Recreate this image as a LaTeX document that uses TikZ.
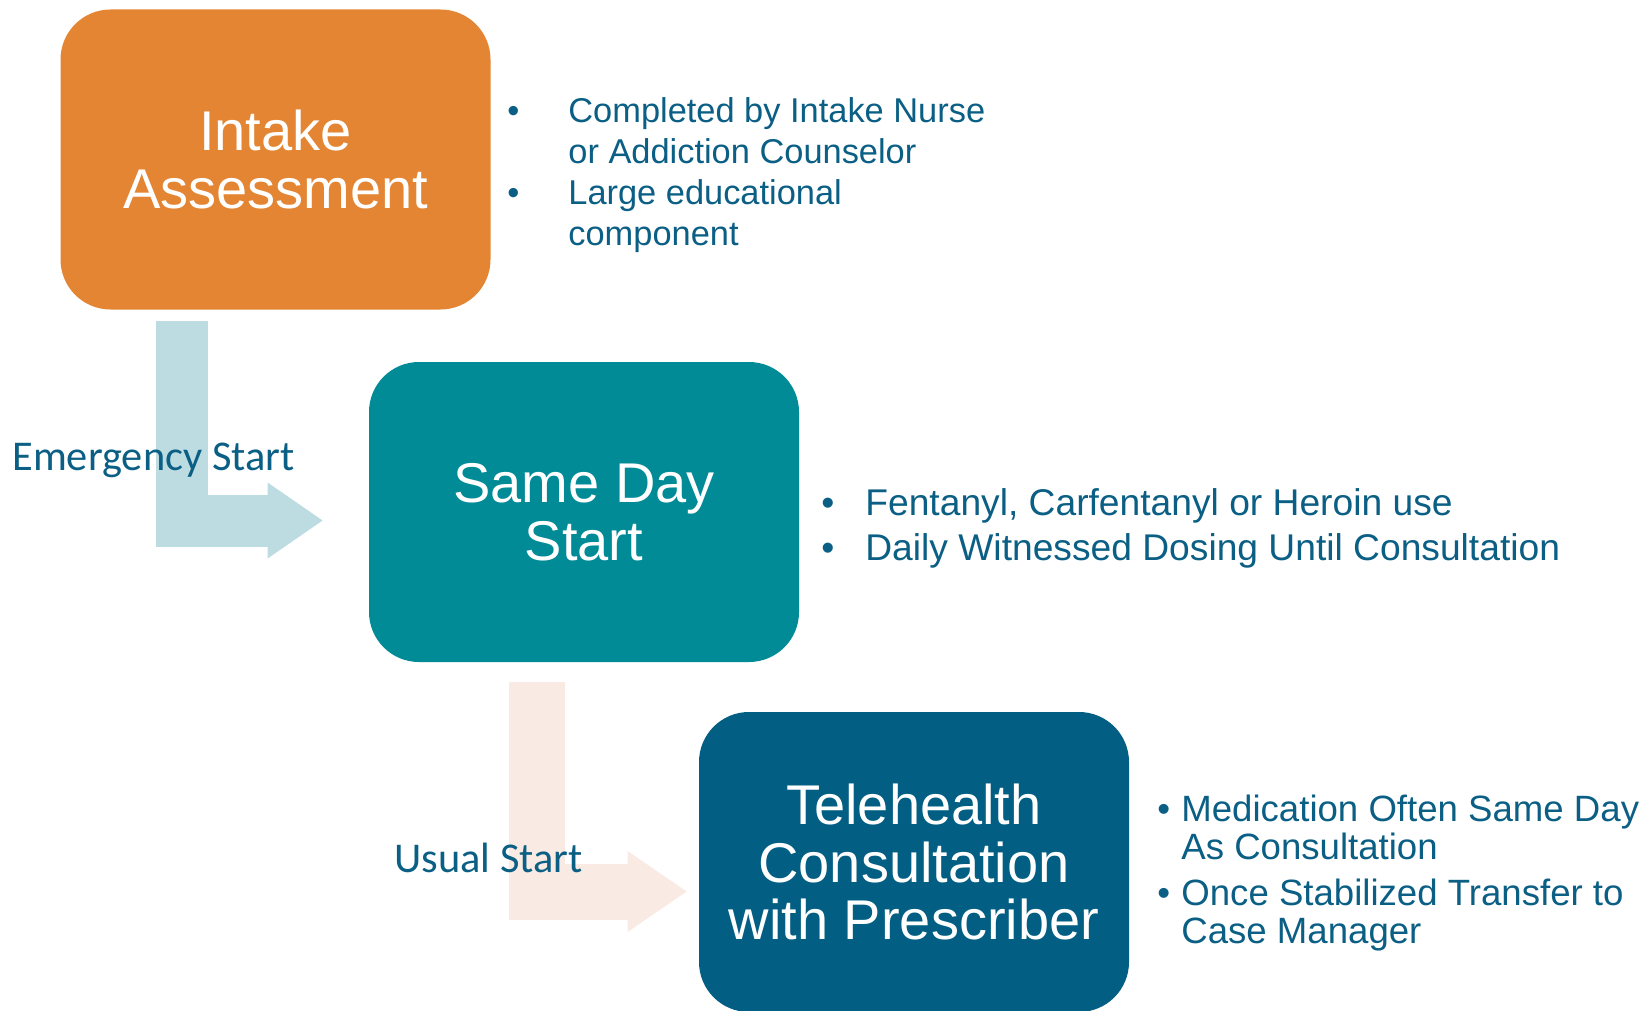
\documentclass[tikz,border=0pt]{standalone}
\usepackage{fontspec}
\setmainfont{Liberation Sans}
\newfontfamily\labelfont{Carlito}
\usetikzlibrary{arrows.meta}
\definecolor{intakeorange}{HTML}{E38533}
\definecolor{sameteal}{HTML}{008B96}
\definecolor{teleblue}{HTML}{025E82}
\definecolor{notetext}{HTML}{0B5F84}
\definecolor{emerarrow}{HTML}{BCDCE1}
\definecolor{usualarrow}{HTML}{F9EAE4}
\newcommand{\firstline}[2]{\makebox[#1][l]{\textbullet}#2}
\newcommand{\nextline}[2]{\hspace*{#1}#2}
\begin{document}
\begin{tikzpicture}[x=0.5pt, y=-0.5pt,
  stage/.style = {shape=rectangle, rounded corners=25pt,
    minimum width=215pt, minimum height=150pt, inner sep=0pt,
    align=center, text=white, font=\fontsize{28}{28.75}\selectfont},
  notes/.style = {anchor=base west, inner sep=0pt, align=left,
    text=notetext},
  pathlabel/.style = {anchor=base west, inner sep=0pt, text=notetext,
    font=\labelfont\fontsize{21.2}{24}\selectfont}]
  \useasboundingbox (0,0) rectangle (1649,1011);
  \node[stage, fill=intakeorange] (intake) at (275.5,159.5) {Intake\\Assessment};
  \node[stage, fill=sameteal] (sameday) at (584,512) {Same Day\\Start};
  \node[stage, fill=teleblue] (tele) at (914,862) {Telehealth\\Consultation\\with Prescriber};
  \draw[draw=emerarrow, line width=26pt,
    -{Triangle[width=38pt, length=27.5pt, line width=0pt]}]
    ([xshift=61pt, yshift=-5.5pt]intake.south west)
    |- ([xshift=-23pt, yshift=-4.25pt]sameday.west);
  \draw[draw=usualarrow, line width=28pt,
    -{Triangle[width=40.5pt, length=29.5pt, line width=0pt]}]
    ([xshift=84pt, yshift=-10pt]sameday.south west)
    |- ([xshift=-6pt, yshift=-14.75pt]tele.west);
  \node[pathlabel] (emerlabel) at (12,470) {Emergency Start};
  \node[pathlabel] (usuallabel) at (394,872) {Usual Start};
  \node[notes, font=\fontsize{17.2}{20.5}\selectfont] (intakenotes) at (507,245)
    {\firstline{30.5pt}{Completed by Intake Nurse}\\
     \nextline{30.5pt}{or Addiction Counselor}\\
     \firstline{30.5pt}{Large educational}\\
     \nextline{30.5pt}{component}};
  \node[notes, font=\fontsize{18.6}{22.5}\selectfont] (samedaynotes) at (821,560)
    {\firstline{22pt}{Fentanyl, Carfentanyl or Heroin use}\\
     \firstline{22pt}{Daily Witnessed Dosing Until Consultation}};
  \node[notes, font=\fontsize{18.3}{19}\selectfont] (telenotes) at (1157,943)
    {\firstline{12pt}{Medication Often Same Day}\\
     \nextline{12pt}{As Consultation}\\[4pt]
     \firstline{12pt}{Once Stabilized Transfer to}\\
     \nextline{12pt}{Case Manager}};
\end{tikzpicture}
\end{document}
